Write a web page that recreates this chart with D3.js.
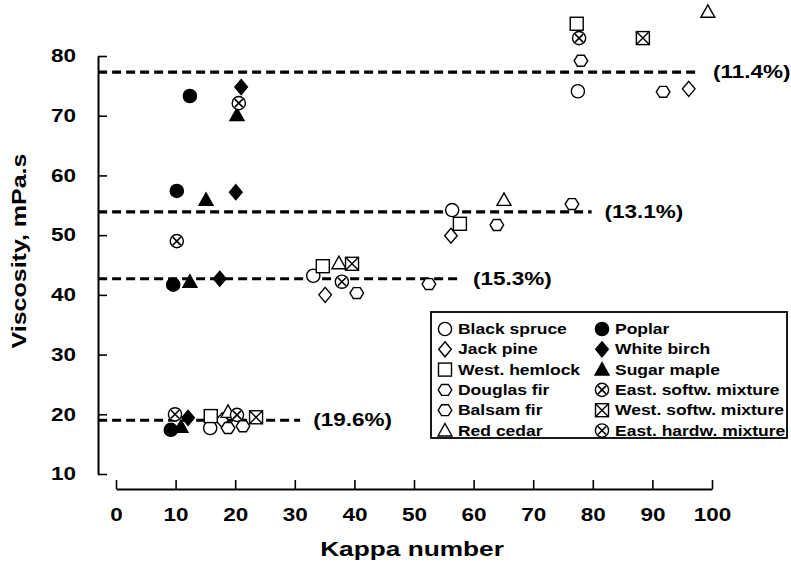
<!DOCTYPE html>
<html><head><meta charset="utf-8">
<script src="https://cdn.jsdelivr.net/npm/d3@7"></script>
<style>
body{margin:0;background:#fff;}
svg text{font-family:"Liberation Sans",Arial,Helvetica,sans-serif;font-weight:bold;fill:#000;}
</style></head>
<body><svg id="c" width="791" height="564"></svg>
<script>
// ---- data ----
const speciesNames = ["Black spruce","Jack pine","West. hemlock","Douglas fir","Balsam fir","Red cedar",
  "Poplar","White birch","Sugar maple","East. softw. mixture","West. softw. mixture","East. hardw. mixture"];
const kappaValues = [
  [15.8, 33.1, 56.4, 77.5],
  [17.8, 35.1, 56.2, 96.1],
  [15.9, 34.7, 57.7, 77.3],
  [18.8, 40.4, 63.9, 91.8],
  [21.3, 52.5, 76.5, 78.0],
  [18.8, 37.4, 65.1, 99.3],
  [9.2, 9.6, 10.2, 12.4],
  [12.1, 17.4, 20.1, 21.0],
  [10.9, 12.4, 15.1, 20.3],
  [20.3, 37.9, 77.7],
  [23.5, 39.6, 88.4],
  [9.9, 10.2, 20.6]
];
const viscosityValues = [
  [17.7, 43.2, 54.2, 74.1],
  [19.0, 40.0, 49.9, 74.5],
  [19.7, 44.8, 51.9, 85.4],
  [17.7, 40.3, 51.7, 74.0],
  [18.0, 41.8, 55.2, 79.2],
  [20.4, 45.3, 55.9, 87.4],
  [17.4, 41.7, 57.4, 73.3],
  [19.4, 42.7, 57.2, 74.8],
  [17.9, 42.2, 55.9, 70.1],
  [19.9, 42.2, 83.0],
  [19.5, 45.2, 83.0],
  [20.0, 49.0, 72.1]
];
const fitLevels = [77.3, 53.9, 42.7, 19.0];
const fitEnds = [98, 79.8, 57.7, 30.9];
const fitLabels = ["(11.4%)", "(13.1%)", "(15.3%)", "(19.6%)"];
const xTicks = [0,10,20,30,40,50,60,70,80,90,100];
const yTicks = [10,20,30,40,50,60,70,80];
const xTitle = "Kappa number";
const yTitle = "Viscosity, mPa.s";

// ---- styles ----
const shapeOf = ["circle","diamond","square","hexagon","hexagon","triangle",
  "circle","diamond","triangle","circlex","squarex","circlex"];
const filledOf = [false,false,false,false,false,false,true,true,true,false,false,false];
const SX = 1.25; // horizontal stretch of the lettering

const svg = d3.select("#c");
const x = d3.scaleLinear().domain([0,100]).range([116,712]);
const y = d3.scaleLinear().domain([10,80]).range([474,56]);

function sym(g, shape, cx, cy, filled){
  const f = filled ? "#000" : "#fff";
  const st = {stroke:"#000","stroke-width":1.4,fill:f};
  const a = (el)=>{for(const k in st) el.attr(k, st[k]); return el;};
  const p = g.append("g").attr("transform",`translate(${cx},${cy})`);
  if(shape==="circle"){ a(p.append("circle").attr("r",6.6)); }
  else if(shape==="diamond"){ a(p.append("path").attr("d","M0,-7.5L6.3,0L0,7.5L-6.3,0Z")); }
  else if(shape==="square"){ a(p.append("rect").attr("x",-6.5).attr("y",-6.5).attr("width",13).attr("height",13)); }
  else if(shape==="hexagon"){
    const pts = d3.range(6).map(i=>{const t=i*Math.PI/3; return [6.8*Math.cos(t),6.3*Math.sin(t)];});
    a(p.append("path").attr("d","M"+pts.map(q=>q.join(",")).join("L")+"Z"));
  }
  else if(shape==="triangle"){ a(p.append("path").attr("d","M0,-7L7,5.5L-7,5.5Z")); }
  else if(shape==="circlex"){
    a(p.append("circle").attr("r",6.6));
    p.append("path").attr("d","M-4,-4L4,4M4,-4L-4,4").attr("stroke","#000").attr("stroke-width",1.6);
  }
  else if(shape==="squarex"){
    a(p.append("rect").attr("x",-6.5).attr("y",-6.5).attr("width",13).attr("height",13));
    p.append("path").attr("d","M-6.5,-6.5L6.5,6.5M6.5,-6.5L-6.5,6.5").attr("stroke","#000").attr("stroke-width",1.4);
  }
}

function stretchText(sel){
  sel.each(function(){
    const t = d3.select(this);
    const xx = +(t.attr("x")||0);
    t.attr("x", xx/SX).attr("transform", `scale(${SX},1)`);
  });
}

// ---- axes ----
const xAxis = d3.axisBottom(x).tickValues(xTicks).tickSizeInner(-9).tickSizeOuter(0).tickPadding(19);
const gx = svg.append("g").attr("transform","translate(0,489)").call(xAxis);
gx.select(".domain").attr("stroke","#000").attr("stroke-width",2);
gx.selectAll(".tick line").attr("stroke","#000").attr("stroke-width",1.6);
gx.selectAll("text").attr("font-size",18).attr("fill","#000").attr("font-family",null);
stretchText(gx.selectAll("text"));

const yAxis = d3.axisLeft(y).tickValues(yTicks).tickSizeInner(-9).tickSizeOuter(0).tickPadding(22);
const gy = svg.append("g").attr("transform","translate(98,0)").call(yAxis);
gy.select(".domain").attr("stroke","#000").attr("stroke-width",2);
gy.selectAll(".tick line").attr("stroke","#000").attr("stroke-width",1.6);
gy.selectAll("text").attr("font-size",18).attr("fill","#000").attr("font-family",null);
stretchText(gy.selectAll("text"));

// titles
svg.append("text").attr("transform",`translate(412,556) scale(${SX},1)`)
  .attr("text-anchor","middle").attr("font-size",21).text(xTitle);
svg.append("text").attr("transform",`translate(26,251) rotate(-90) scale(${SX},1)`)
  .attr("text-anchor","middle").attr("font-size",20).text(yTitle);

// ---- fit lines ----
const gl = svg.append("g");
fitLevels.forEach((v,i)=>{
  gl.append("line").attr("x1",x(-3)).attr("x2",x(fitEnds[i])).attr("y1",y(v)).attr("y2",y(v))
    .attr("stroke","#000").attr("stroke-width",3.2).attr("stroke-dasharray","9,5");
  gl.append("text").attr("transform",`translate(${x(fitEnds[i])+13},${y(v)+6}) scale(${SX},1)`)
    .attr("font-size",18).text(fitLabels[i]);
});

// ---- points ----
const gp = svg.append("g");
speciesNames.forEach((s,i)=>{
  kappaValues[i].forEach((k,j)=>{
    sym(gp, shapeOf[i], x(k), y(viscosityValues[i][j]), filledOf[i]);
  });
});

// ---- legend ----
const lg = svg.append("g");
lg.append("rect").attr("x",431).attr("y",312).attr("width",356).attr("height",126)
  .attr("fill","#fff").attr("stroke","#000").attr("stroke-width",1.8);
speciesNames.forEach((s,i)=>{
  const col = i<6 ? 0 : 1, row = i%6;
  const sx = col===0 ? 445 : 602, cy = 329 + row*20.3;
  sym(lg, shapeOf[i], sx, cy, filledOf[i]);
  lg.append("text").attr("transform",`translate(${sx+13},${cy+5}) scale(${SX},1)`)
    .attr("font-size",14).text(s);
});
</script></body></html>
